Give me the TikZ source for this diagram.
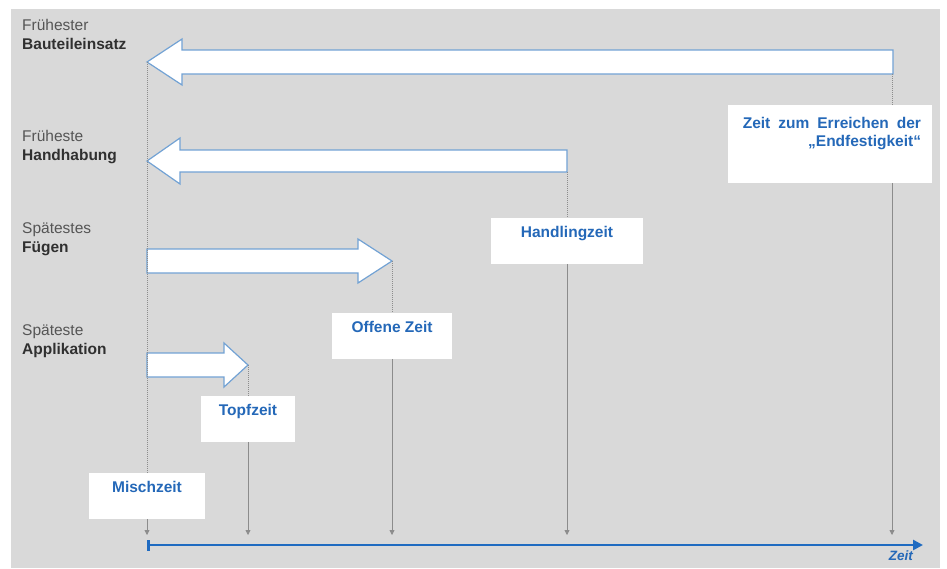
\documentclass[tikz,border=0pt]{standalone}
\usepackage{fontspec}
\setmainfont{Liberation Sans}
\usetikzlibrary{arrows.meta}
\usetikzlibrary{positioning}

\definecolor{bggray}{HTML}{D9D9D9}
\definecolor{zeitblue}{HTML}{2468B8}
\definecolor{axisblue}{HTML}{1F6BC1}
\definecolor{outlineblue}{HTML}{72A2D4}
\definecolor{guidegray}{HTML}{8C8C8C}
\definecolor{labelgray}{HTML}{555555}
\definecolor{labeldark}{HTML}{303030}

\tikzset{
  phase/.style={align=left, anchor=north west, inner sep=0pt, text=labelgray, font=\fontsize{15.5}{19}\selectfont},
  zeitbox/.style={fill=white, text=zeitblue, font=\fontsize{15.5}{18}\selectfont\bfseries, anchor=base, inner xsep=0pt, inner ysep=7pt, text height=12pt, text depth=20pt},
  festtext/.style={align=right, inner sep=0pt, text=zeitblue, font=\fontsize{15.5}{18}\selectfont\bfseries},
  blockarrow/.style={draw=outlineblue, fill=white, line width=1.2pt, line join=miter},
  guide/.style={draw=guidegray, line width=0.8pt, dash pattern=on 1pt off 1pt},
  drop/.style={draw=guidegray, line width=0.8pt, -{Triangle[length=5pt,width=5pt]}},
}

\begin{document}
\begin{tikzpicture}[x=1pt,y=-1pt]
\useasboundingbox (0,0) rectangle (947,568);

% background
\fill[bggray] (11,9) rectangle (940,568);

% time axis
\coordinate (tmisch) at (147,545);
\coordinate (ttopf) at (248,545);
\coordinate (toffen) at (392,545);
\coordinate (thandl) at (567,545);
\coordinate (tfest) at (892,545);
\coordinate (axisend) at (923,545);
\draw[axisblue, line width=2.6pt, {Bar[width=11pt]}-{Triangle[length=10pt,width=10pt]}] (tmisch) -- (axisend);
\node[anchor=base east, inner sep=0pt, text=zeitblue, font=\fontsize{13.5}{15}\selectfont\bfseries\itshape] (zeitlbl) at (913,560) {Zeit};

% phases
\node[phase] (lblbau) at (22,19) {Frühester\\\textcolor{labeldark}{\textbf{Bauteileinsatz}}};
\node[phase] (lblhand) at (22,130) {Früheste\\\textcolor{labeldark}{\textbf{Handhabung}}};
\node[phase] (lblfueg) at (22,222) {Spätestes\\\textcolor{labeldark}{\textbf{Fügen}}};
\node[phase] (lblappl) at (22,324) {Späteste\\\textcolor{labeldark}{\textbf{Applikation}}};

% block arrows
\draw[blockarrow] (893,50) -- (182,50) -- (182,39) -- (147,62) -- (182,85) -- (182,74) -- (893,74) -- cycle;
\draw[blockarrow] (567,150) -- (180,150) -- (180,138) -- (147,161) -- (180,184) -- (180,172) -- (567,172) -- cycle;
\draw[blockarrow] (147,249) -- (358,249) -- (358,239) -- (392,261) -- (358,283) -- (358,273) -- (147,273) -- cycle;
\draw[blockarrow] (147,353) -- (224,353) -- (224,343) -- (248,365) -- (224,387) -- (224,377) -- (147,377) -- cycle;
\coordinate (bautip) at (147,62);
\coordinate (bauend) at (892,74);
\coordinate (handend) at (567,172);
\coordinate (fuegtip) at (392,261);
\coordinate (appltip) at (248,365);

% time boxes
\node[zeitbox, minimum width=116pt] (misch) at (147,492) {Mischzeit};
\node[zeitbox, minimum width=94pt] (topf) at (248,415) {Topfzeit};
\node[zeitbox, minimum width=120pt] (offen) at (392,332) {Offene Zeit};
\node[zeitbox, minimum width=152pt] (handl) at (567,237) {Handlingzeit};
\node[fill=white, minimum width=204pt, minimum height=78pt, inner sep=0pt] (fest) at (830,144) {};
\node[festtext, below left=12pt and 11pt of fest.north east] (festlbl) {Zeit\hspace{8pt}zum\hspace{8pt}Erreichen\hspace{8pt}der\\„Endfestigkeit“};

% guide lines
\draw[guide] (bautip) -- (misch.north);
\draw[guide] (appltip) -- (topf.north);
\draw[guide] (fuegtip) -- (offen.north);
\draw[guide] (handend) -- (handl.north);
\draw[guide] (bauend) -- (fest.north -| bauend);

\draw[drop] (misch.south) -- ([yshift=10pt]tmisch);
\draw[drop] (topf.south) -- ([yshift=10pt]ttopf);
\draw[drop] (offen.south) -- ([yshift=10pt]toffen);
\draw[drop] (handl.south) -- ([yshift=10pt]thandl);
\draw[drop] (fest.south -| tfest) -- ([yshift=10pt]tfest);

\end{tikzpicture}
\end{document}
